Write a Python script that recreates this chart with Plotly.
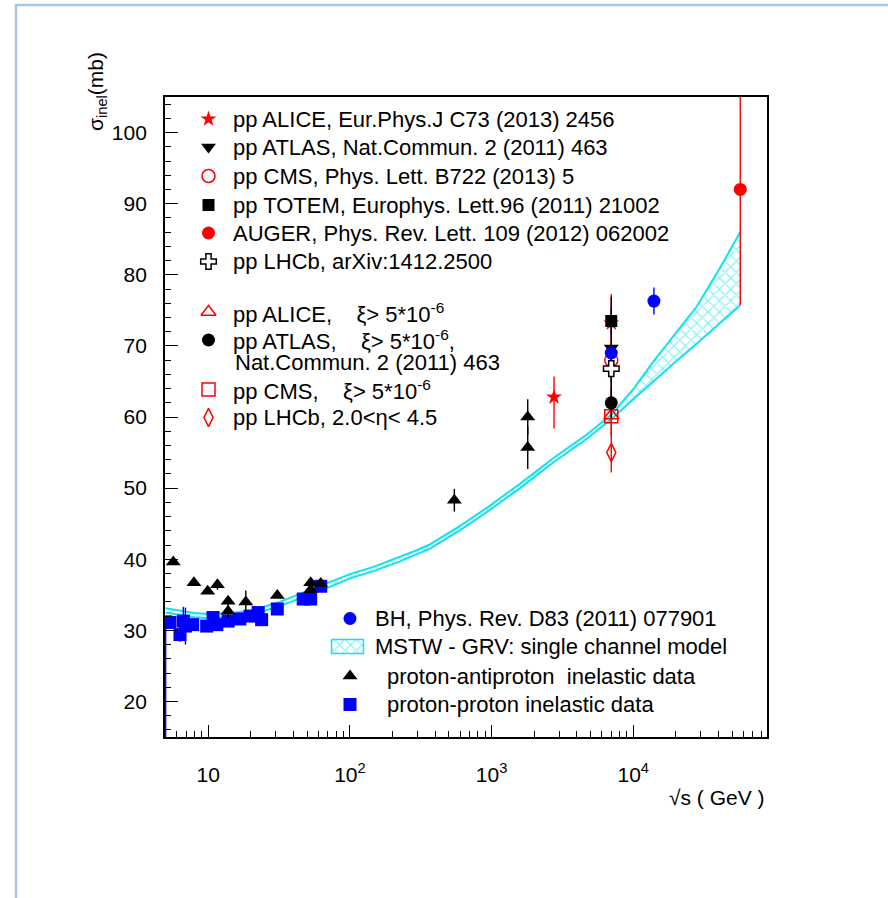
import plotly.graph_objects as go

# ---------------- data ----------------
# proton-proton inelastic data (sqrt(s) in GeV, sigma_inel in mb)
pp_E = [5.0, 5.37, 6.31, 6.67, 6.9, 7.76, 9.74, 10.8, 11.5, 13.8, 16.7, 19.7,
        22.5, 23.8, 30.7, 46.8, 52.8, 62.2]
pp_sig = [31.2, 31.1, 29.4, 31.3, 30.6, 30.8, 30.6, 31.8, 30.8, 31.3, 31.6, 32.0,
          32.5, 31.5, 33.0, 34.4, 34.4, 36.2]
pp_err_up = [0.5, 0.3, 1.0, 2.0, 2.6, 0.3, 0.3, 0.3, 0.3, 0.3, 0.3, 0.3,
             0.3, 0.9, 0.3, 0.3, 0.3, 0.3]
pp_err_dn = [17.0, 0.3, 1.0, 2.0, 2.6, 0.3, 0.3, 0.3, 0.3, 0.3, 0.3, 0.3,
             0.3, 0.9, 0.3, 0.3, 0.3, 0.3]

# proton-antiproton inelastic data
ppbar_E = [5.66, 7.92, 9.9, 11.6, 13.8, 13.8, 18.4, 30.7, 52.8, 52.8, 62.2,
           546, 1800, 1800]
ppbar_sig = [39.6, 36.7, 35.5, 36.4, 34.1, 32.7, 34.0, 34.9, 36.7, 35.7, 36.6,
             48.3, 60.0, 55.7]
ppbar_err = [0.3, 0.3, 0.3, 0.7, 0.4, 1.0, 1.6, 0.3, 0.3, 0.3, 0.3,
             1.6, 2.5, 3.0]

# LHC / cosmic-ray measurements
alice_E = [2760, 7000]
alice_sig = [62.8, 73.2]
alice_up = [2.9, 4.1]
alice_dn = [4.4, 5.3]

atlas_E = [7000]
atlas_sig = [69.7]
atlas_err = [7.2]

cms_E = [7000]
cms_sig = [68.0]
cms_err = [5.0]

totem_E = [7000]
totem_sig = [73.5]
totem_err = [1.9]

auger_E = [57000]
auger_sig = [92.0]
auger_err = [16.3]

lhcb_E = [7000]
lhcb_sig = [66.8]
lhcb_err = [2.0]

alice_xi_E = [7000]
alice_xi_sig = [60.2]
alice_xi_err = [3.0]

atlas_xi_E = [7000]
atlas_xi_sig = [62.0]
atlas_xi_err = [2.1]

cms_xi_E = [7000]
cms_xi_sig = [60.1]
cms_xi_err = [2.4]

lhcb_eta_E = [7000]
lhcb_eta_sig = [55.0]
lhcb_eta_err = [2.8]

# Block-Halzen fit
bh_E = [7000, 14000]
bh_sig = [69.0, 76.3]
bh_err = [0.8, 1.9]

# MSTW - GRV single channel model band
band_E = [5, 6, 7, 8, 10, 15, 20, 30, 50, 70, 100, 150, 225, 300, 367, 600, 923,
          1585, 2723, 4677, 7000, 10000, 14000, 20000, 28000, 40000, 57000]
band_hi = [33.1, 32.8, 32.6, 32.45, 32.3, 32.45, 32.8, 33.8, 35.5, 36.6, 37.9,
           39.0, 40.3, 41.3, 42.1, 44.7, 47.2, 50.6, 54.2, 57.5, 60.3, 63.9, 67.9,
           71.8, 75.5, 80.6, 86.0]
band_lo = [32.5, 32.2, 32.0, 31.85, 31.7, 31.85, 32.2, 33.2, 34.9, 36.0, 37.3,
           38.4, 39.7, 40.7, 41.5, 44.1, 46.6, 50.0, 53.6, 56.9, 59.7, 62.5, 65.1,
           67.8, 70.3, 73.0, 75.7]

x_tick_vals = [10, 100, 1000, 10000]
x_tick_text = ["10", "10<sup>2</sup>", "10<sup>3</sup>", "10<sup>4</sup>"]
y_tick_vals = [20, 30, 40, 50, 60, 70, 80, 90, 100]

# ---------------- styling ----------------
FONT = "Liberation Sans, Arial, Helvetica, sans-serif"
FS = 21      # axis labels
FL = 22      # legend entries
W, H = 888, 898
PL, PR, PT, PB = 165, 767, 97, 737
CYAN = "#12e2ec"
RED = "#ff0000"
BLUE = "#0000ff"
HATCH = dict(shape="x", fgcolor=CYAN, bgcolor="rgba(0,0,0,0)", size=8, solidity=0.28)

fig = go.Figure()


def ebar(up, dn=None, color="black"):
    d = dict(type="data", array=up, color=color, thickness=1.4, width=0, visible=True)
    if dn is not None:
        d["symmetric"] = False
        d["arrayminus"] = dn
    return d


# model band: lower edge, then upper edge filled with cross-hatching
fig.add_trace(go.Scatter(x=band_E, y=band_lo, mode="lines",
                         line=dict(color=CYAN, width=2), showlegend=False))
fig.add_trace(go.Scatter(x=band_E, y=band_hi, mode="lines",
                         line=dict(color=CYAN, width=2), fill="tonexty",
                         fillcolor="rgba(0,0,0,0)", fillpattern=HATCH,
                         showlegend=False))


def pts(x, y, symbol, color, err, size=13, line=None):
    m = dict(symbol=symbol, color=color, size=size,
             line=line if line is not None else dict(width=0))
    return go.Scatter(x=x, y=y, mode="markers", marker=m, error_y=err,
                      showlegend=False)


fig.add_trace(pts(pp_E, pp_sig, "square", BLUE, ebar(pp_err_up, pp_err_dn, BLUE), size=13))
fig.add_trace(pts(ppbar_E, ppbar_sig, "triangle-up", "black", ebar(ppbar_err), size=13))

fig.add_trace(pts(alice_E, alice_sig, "star", RED, ebar(alice_up, alice_dn, RED), size=12))
fig.add_trace(pts(cms_E, cms_sig, "circle-open", RED, ebar(cms_err, color=RED), size=13,
                  line=dict(color=RED, width=1.5)))
fig.add_trace(pts(alice_xi_E, alice_xi_sig, "triangle-up-open", RED, ebar(alice_xi_err, color=RED),
                  size=13, line=dict(color=RED, width=1.5)))
fig.add_trace(pts(cms_xi_E, cms_xi_sig, "square-open", RED, ebar(cms_xi_err, color=RED),
                  size=13, line=dict(color=RED, width=1.5)))
fig.add_trace(pts(lhcb_eta_E, lhcb_eta_sig, "diamond-tall-open", RED, ebar(lhcb_eta_err, color=RED),
                  size=13, line=dict(color=RED, width=1.5)))
fig.add_trace(pts(atlas_E, atlas_sig, "triangle-down", "black", ebar(atlas_err), size=13))
fig.add_trace(pts(totem_E, totem_sig, "square", "black", ebar(totem_err), size=12))
fig.add_trace(pts(lhcb_E, lhcb_sig, "cross", "white", ebar(lhcb_err), size=13,
                  line=dict(color="black", width=1.5)))
fig.add_trace(pts(atlas_xi_E, atlas_xi_sig, "circle", "black", ebar(atlas_xi_err), size=13))
fig.add_trace(pts(bh_E, bh_sig, "circle", BLUE, ebar(bh_err, color=BLUE), size=13))
fig.add_trace(pts(auger_E, auger_sig, "circle", RED, ebar(auger_err, color=RED), size=13))

# ---------------- legend keys (drawn on a full-page pixel overlay) ----------------
XI = "\u00a0\u00a0\u00a0 \u03be&gt; 5*10<sup>-6</sup>"
leg1 = [
    (119, "star", RED, None, 12, "pp ALICE, Eur.Phys.J C73 (2013) 2456"),
    (147, "triangle-down", "black", None, 13, "pp ATLAS, Nat.Commun. 2 (2011) 463"),
    (176, "circle-open", RED, RED, 13, "pp CMS, Phys. Lett. B722 (2013) 5"),
    (205, "square", "black", None, 12, "pp TOTEM, Europhys. Lett.96 (2011) 21002"),
    (233, "circle", RED, None, 13, "AUGER, Phys. Rev. Lett. 109 (2012) 062002"),
    (261.5, "cross", "white", "black", 13, "pp LHCb, arXiv:1412.2500"),
    (312, "triangle-up-open", RED, RED, 13, "pp ALICE," + XI),
    (340, "circle", "black", None, 13, "pp ATLAS," + XI + ","),
    (389.5, "square-open", RED, RED, 13, "pp CMS," + XI),
    (417.5, "diamond-tall-open", RED, RED, 13, "pp LHCb, 2.0&lt;\u03b7&lt; 4.5"),
]
leg2 = [
    (618.5, "circle", BLUE, None, 13, 372.5, "BH, Phys. Rev. D83 (2011) 077901"),
    (646.5, None, None, None, 0, 372.5, "MSTW - GRV: single channel model"),
    (676, "triangle-up", "black", None, 13, 385, "proton-antiproton \u00a0inelastic data"),
    (704.5, "square", BLUE, None, 13, 385, "proton-proton inelastic data"),
]

annotations = []


def key(xp, yp, symbol, color, lcolor, size):
    line = dict(color=lcolor, width=1.5) if lcolor else dict(width=0)
    fig.add_trace(go.Scatter(x=[xp], y=[yp], mode="markers", xaxis="x2", yaxis="y2",
                             marker=dict(symbol=symbol, color=color, size=size, line=line),
                             cliponaxis=False, showlegend=False, hoverinfo="skip"))


def label(xp, yp, text, size=FL, anchor="left"):
    annotations.append(dict(x=xp / W, y=1 - yp / H, xref="paper", yref="paper",
                            text=text, showarrow=False, xanchor=anchor, yanchor="middle",
                            font=dict(family=FONT, size=size, color="black")))


for yp, sym, col, lcol, sz, txt in leg1:
    key(208.5, yp, sym, col, lcol, sz)
    label(230.5, yp + 0.5, txt)
# second line of the ATLAS entry
label(233, 362.5, "Nat.Commun. 2 (2011) 463")

for yp, sym, col, lcol, sz, tx, txt in leg2:
    if sym is not None:
        key(350, yp, sym, col, lcol, sz)
    label(tx, yp, txt)

# hatched key box for the model band
bx0, bx1, by0, by1 = 331.5, 363.5, 639.5, 653.5
fig.add_trace(go.Scatter(x=[bx0, bx1, bx1, bx0, bx0], y=[by0, by0, by1, by1, by0],
                         xaxis="x2", yaxis="y2", mode="lines", fill="toself",
                         fillcolor="rgba(0,0,0,0)", fillpattern=HATCH,
                         line=dict(color=CYAN, width=1.5), cliponaxis=False,
                         showlegend=False, hoverinfo="skip"))

# axis titles
label(767, 797, "\u221as ( GeV )", size=FS, anchor="right")
annotations.append(dict(x=97 / W, y=1 - 92 / H, xref="paper", yref="paper",
                        text="\u03c3<sub>inel</sub>(mb)", showarrow=False, textangle=-90,
                        xanchor="center", yanchor="middle",
                        font=dict(family=FONT, size=FS, color="black")))

minor_x = [m * 10 ** d for d in range(0, 5) for m in range(2, 10)]

fig.update_layout(
    width=W, height=H,
    margin=dict(l=0, r=0, t=0, b=0),
    paper_bgcolor="white",
    plot_bgcolor="rgba(0,0,0,0)",
    showlegend=False,
    font=dict(family=FONT, size=FS, color="black"),
    xaxis=dict(type="log", range=[0.6944, 4.9445], domain=[PL / W, PR / W],
               anchor="y", showline=True, linecolor="black", linewidth=1.8, mirror=True,
               ticks="inside", ticklen=12, tickwidth=1.3, tickcolor="black",
               tickmode="array", tickvals=x_tick_vals, ticktext=x_tick_text,
               tickfont=dict(family=FONT, size=FS, color="black"),
               ticklabelstandoff=18,
               minor=dict(ticks="inside", ticklen=6, tickwidth=1.2, tickcolor="black",
                          tickmode="array", tickvals=minor_x, showgrid=False),
               showgrid=False, zeroline=False),
    yaxis=dict(range=[15, 105], domain=[1 - PB / H, 1 - PT / H], anchor="x",
               showline=True, linecolor="black", linewidth=1.8, mirror=True,
               ticks="inside", ticklen=13, tickwidth=1.3, tickcolor="black",
               tickmode="array", tickvals=y_tick_vals,
               tickfont=dict(family=FONT, size=FS, color="black"),
               ticklabelstandoff=12,
               minor=dict(ticks="inside", ticklen=6, tickwidth=1.2, tickcolor="black",
                          dtick=2, showgrid=False),
               showgrid=False, zeroline=False),
    xaxis2=dict(domain=[0, 1], range=[0, W], anchor="y2", visible=False, fixedrange=True),
    yaxis2=dict(domain=[0, 1], range=[H, 0], anchor="x2", visible=False, fixedrange=True),
    annotations=annotations,
    shapes=[
        dict(type="line", xref="paper", yref="paper", x0=16 / W, x1=16 / W,
             y0=0, y1=1 - 4 / H, line=dict(color="#a9c5e6", width=2.5)),
        dict(type="line", xref="paper", yref="paper", x0=16 / W, x1=1,
             y0=1 - 5 / H, y1=1 - 5 / H, line=dict(color="#a9c5e6", width=2.5)),
    ],
)

fig.write_html("out.html")
